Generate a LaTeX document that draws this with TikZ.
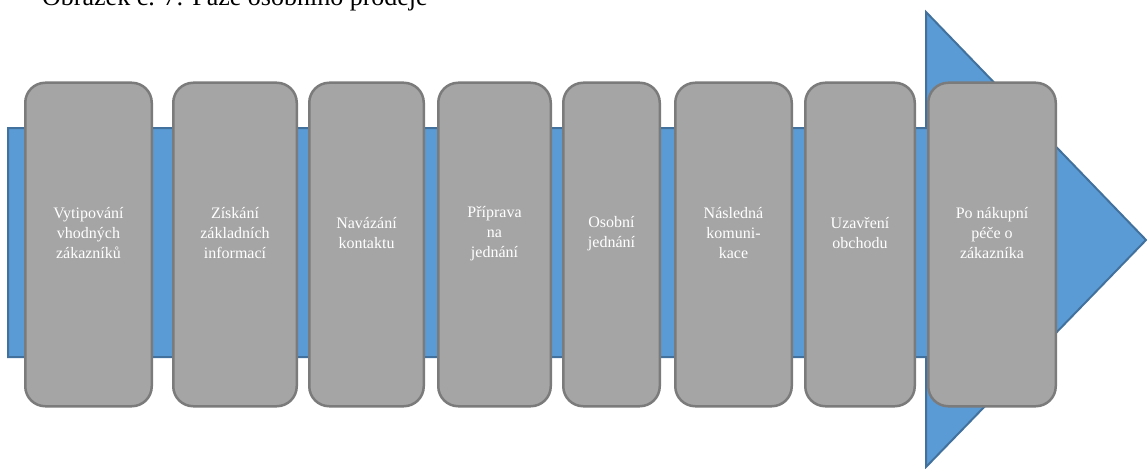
\documentclass[tikz,border=0pt]{standalone}
\usepackage{fontspec}
\setmainfont{Liberation Serif}
\definecolor{arrowfill}{HTML}{5B9BD5}
\definecolor{arrowline}{HTML}{41719C}
\definecolor{stagefill}{HTML}{A5A5A5}
\definecolor{stageline}{HTML}{7B7B7B}
\begin{document}
\begin{tikzpicture}[x=1pt,y=-1pt,
  stage/.style={draw=stageline, fill=stagefill, line width=2.5pt,
    rounded corners=20pt, minimum height=323.5pt, inner sep=0pt},
  stagetext/.style={text=white, align=center, inner sep=0pt,
    font=\fontsize{16}{20}\selectfont},
  arrowbody/.style={fill=arrowfill, draw=arrowline, line width=2pt,
    line join=miter}]
\useasboundingbox (0,0) rectangle (1147,468);
\begin{scope}
  \clip (0,0) rectangle (1147,468);
  % caption line, partly above the page edge
  \node[anchor=base west, inner sep=0pt, font=\fontsize{26}{30}\selectfont]
    (title) at (42,6) {Obrázek č. 7: Fáze osobního prodeje};
  % big process arrow
  \draw[arrowbody] (8,128) -- (926,128) -- (926,12) -- (1146,240)
    -- (926,467) -- (926,357) -- (8,357) -- cycle;
\end{scope}
% stages of the sales process
\foreach \c/\w/\n/\t in {
   88.5/126.5/s1/{Vytipování\\vhodných\\zákazníků},
   235/123.5/s2/{Získání\\základních\\informací},
   366.5/114.5/s3/{Navázání\\kontaktu},
   494.5/112.5/s4/{Příprava\\na\\jednání},
   611.5/96.5/s5/{Osobní\\jednání},
   733.5/116.5/s6/{Následná\\komuni-\\kace},
   860/109.5/s7/{Uzavření\\obchodu},
   992/127.5/s8/{Po nákupní\\péče o\\zákazníka}}{
  \node[stage, minimum width=\w pt] (\n) at (\c,244.5) {};
  \node[stagetext] (\n-text) at ([yshift=11pt]\n.center) {\t};
}
\end{tikzpicture}
\end{document}
